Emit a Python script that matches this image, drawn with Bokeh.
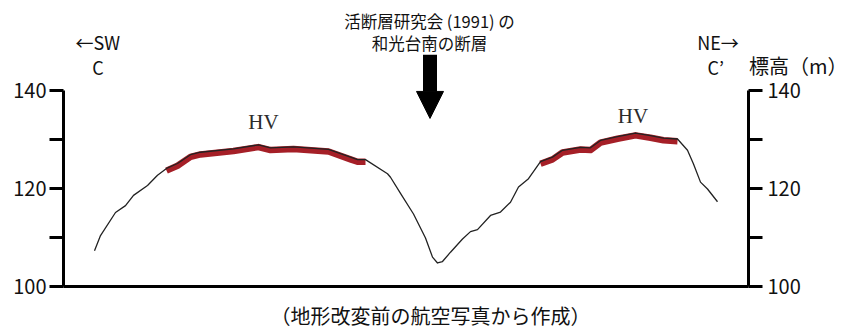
from bokeh.plotting import figure
from bokeh.models import Range1d, LinearAxis, FixedTicker, Label, Arrow, NormalHead
from bokeh.embed import file_html
from bokeh.resources import INLINE

# ---- data ----
# horizontal distance along section line C-C' (arbitrary units) and elevation (m)
distance = [31, 37, 52, 62, 70, 84, 94, 103, 114, 127, 137, 170, 195, 207, 230, 265,
            287, 294, 302, 324, 327, 337, 350, 362, 369, 374, 379, 387, 399, 407, 414,
            427, 437, 447, 455, 465, 477, 489, 499, 517, 527, 537, 554, 572, 587, 600,
            614, 624, 630, 637, 644, 654]
elevation = [107.3, 110.4, 115.1, 116.5, 118.6, 120.6, 122.7, 124.1, 125.1, 126.9, 127.4,
             128.1, 128.9, 128.3, 128.5, 128.0, 126.4, 125.9, 125.9, 123.0, 122.3, 119.0,
             114.8, 109.9, 106.0, 104.8, 105.1, 107.0, 109.7, 111.2, 111.6, 114.5, 115.2,
             117.2, 120.3, 122.0, 125.5, 126.4, 127.8, 128.4, 128.3, 129.8, 130.6, 131.3,
             130.8, 130.3, 130.1, 127.8, 125.0, 121.3, 119.9, 117.3]
# HV (terrace surface) stretches, as distance ranges
hv_ranges = [(103, 302), (477, 614)]
hv_label = "HV"
section_length = 685
elev_min, elev_max = 100, 140
elev_ticks = [100, 110, 120, 130, 140]
elev_tick_labels = {100: "100", 110: "", 120: "120", 130: "", 140: "140"}

title_lines = ["活断層研究会 (1991) の", "和光台南の断層"]
caption = "（地形改変前の航空写真から作成）"
unit_label = "標高（m）"

# ---- figure: frame covers the whole canvas, axes are placed at fixed locations ----
W, H = 850, 329
AX_LEFT_PX, AX_BOTTOM_PX = 63, 286
PX_PER_M = 4.9
x_range = Range1d(-AX_LEFT_PX, W - AX_LEFT_PX)
y_range = Range1d(elev_min - (H - AX_BOTTOM_PX) / PX_PER_M, elev_min + AX_BOTTOM_PX / PX_PER_M)

p = figure(width=W, height=H, output_backend="svg", toolbar_location=None,
           x_range=x_range, y_range=y_range,
           x_axis_location=None, y_axis_location=None,
           min_border_left=0, min_border_right=0, min_border_top=0, min_border_bottom=0)
p.outline_line_color = None
p.xgrid.visible = False
p.ygrid.visible = False
p.background_fill_color = "white"
p.border_fill_color = "white"

JP = "Noto Sans CJK JP"


def elev_axis(loc, standoff):
    ax = LinearAxis(ticker=FixedTicker(ticks=elev_ticks, minor_ticks=[]),
                    bounds=(elev_min, elev_max), fixed_location=loc)
    ax.axis_line_width = 3
    ax.axis_line_color = "black"
    ax.major_tick_line_width = 3
    ax.major_tick_line_color = "black"
    ax.major_tick_out = 14
    ax.major_tick_in = 0
    ax.minor_tick_out = 0
    ax.major_label_overrides = elev_tick_labels
    ax.major_label_text_font = JP
    ax.major_label_text_font_size = "20px"
    ax.major_label_text_color = "#111111"
    ax.major_label_standoff = standoff
    return ax


p.add_layout(elev_axis(0, 3), "left")
p.add_layout(elev_axis(section_length, 5), "right")

xb = LinearAxis(ticker=FixedTicker(ticks=[], minor_ticks=[]), fixed_location=elev_min,
                bounds=(0, section_length))
xb.axis_line_width = 3
xb.axis_line_color = "black"
xb.major_tick_line_color = None
xb.minor_tick_line_color = None
xb.major_label_text_font_size = "0px"
p.add_layout(xb, "below")

# HV bands (red, drawn just under the profile line)
for lo, hi in hv_ranges:
    xs = [d for d in distance if lo <= d <= hi]
    ys = [e - 0.45 for d, e in zip(distance, elevation) if lo <= d <= hi]
    p.line(xs, ys, line_color="#a51f27", line_width=6.5, line_cap="butt", line_join="round")

# profile line
p.line(distance, elevation, line_color="#222222", line_width=1.3, line_join="round")


def label(x, y, text, size, font=JP, align="center", color="#111111"):
    p.add_layout(Label(x=x, y=y, text=text, text_font=font, text_font_size=size,
                       text_color=color, text_align=align, text_baseline="middle"))


# HV labels
label(200, 133.5, hv_label, "21px", font="Liberation Serif", color="#2b2b2b")
label(569.5, 134.8, hv_label, "21px", font="Liberation Serif", color="#2b2b2b")

# title and arrow
label(366, 154.2, title_lines[0], "16.5px")
label(366, 149.7, title_lines[1], "16.5px")
p.add_layout(Arrow(x_start=366.5, y_start=147.3, x_end=366.5, y_end=134.3,
                   line_width=14, line_color="black", line_cap="butt",
                   end=NormalHead(size=27, fill_color="black", line_color="black", line_width=1)))

# direction labels
label(12, 150.0, "←SW", "18px", align="left")
label(34.5, 144.8, "C", "18px")
label(654.5, 150.0, "NE→", "18px")
label(644, 144.8, "C’", "18px", align="left")
label(784, 145.1, unit_label, "20px", align="right")

# caption
label(367, 94.1, caption, "20px")

open("out.html", "w").write(file_html(p, INLINE))
